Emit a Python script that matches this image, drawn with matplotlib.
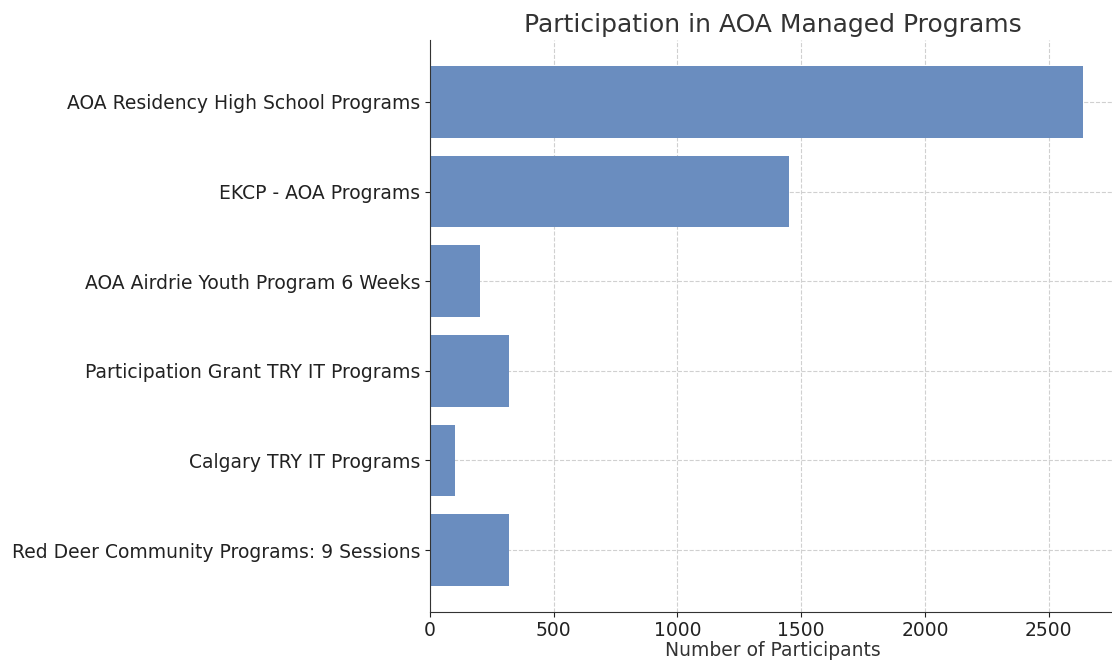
import matplotlib.pyplot as plt

programs = [
    "AOA Residency High School Programs",
    "EKCP - AOA Programs",
    "AOA Airdrie Youth Program 6 Weeks",
    "Participation Grant TRY IT Programs",
    "Calgary TRY IT Programs",
    "Red Deer Community Programs: 9 Sessions",
]
participants = [2640, 1450, 200, 320, 100, 320]
xticks = [0, 500, 1000, 1500, 2000, 2500]

fig = plt.figure(figsize=(11.12, 6.6), dpi=100)
ax = fig.add_axes([0.3867, 0.0727, 0.6169, 0.8667])

ax.barh(programs, participants, color="#6a8dbf", height=0.8, zorder=2)
ax.invert_yaxis()
ax.set_xlim(0, 2772)
ax.set_xticks(xticks)

ax.grid(True, linestyle="--", color="#d0d0d0", linewidth=0.8, zorder=0)
ax.spines["top"].set_visible(False)
ax.spines["right"].set_visible(False)
ax.spines["left"].set_color("#333333")
ax.spines["bottom"].set_color("#333333")

ax.tick_params(axis="both", labelsize=13.5, colors="#222222")
ax.tick_params(axis="x", pad=3)
ax.set_xlabel("Number of Participants", fontsize=13.5, color="#333333", labelpad=1)
ax.set_title("Participation in AOA Managed Programs", fontsize=18, color="#333333", pad=6)

fig.savefig("out.png", dpi=100)
